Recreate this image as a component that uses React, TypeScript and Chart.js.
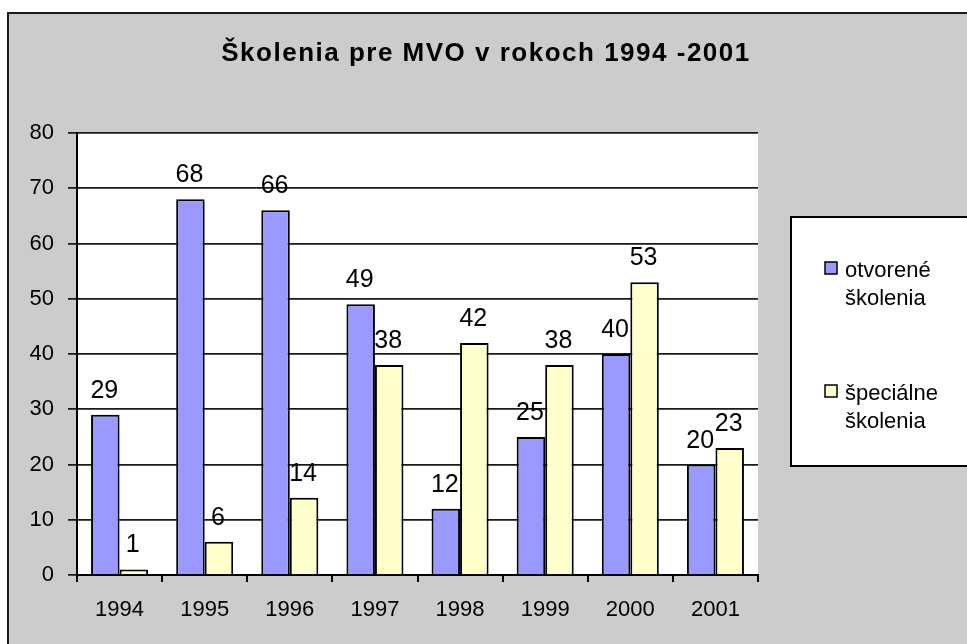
import React, { useEffect, useRef } from "react";
import { Chart, registerables } from "chart.js";

Chart.register(...registerables);

const categories = ["1994", "1995", "1996", "1997", "1998", "1999", "2000", "2001"];
const otvoreneSkolenia = [29, 68, 66, 49, 12, 25, 40, 20];
const specialneSkolenia = [1, 6, 14, 38, 42, 38, 53, 23];
const yTickValues = [0, 10, 20, 30, 40, 50, 60, 70, 80];
const titleText = "Školenia pre MVO v rokoch 1994 -2001";
const legendLines = [
  ["otvorené", "školenia"],
  ["špeciálne", "školenia"],
];
const seriesColors = ["#9999ff", "#ffffcc"];

const FONT = '"Liberation Sans", Arial, sans-serif';

export default function App() {
  const ref = useRef<HTMLCanvasElement>(null);

  useEffect(() => {
    const canvas = ref.current;
    if (!canvas) return;

    const decor = {
      id: "decor",
      beforeDraw(chart: any) {
        const ctx = chart.ctx;
        const W = chart.width;
        const H = chart.height;
        ctx.save();
        ctx.fillStyle = "#ffffff";
        ctx.fillRect(0, 0, W, H);
        ctx.fillStyle = "#cccccc";
        ctx.fillRect(8, 13, W, H);
        ctx.strokeStyle = "#1a1a1a";
        ctx.lineWidth = 2;
        ctx.beginPath();
        ctx.moveTo(8, H + 5);
        ctx.lineTo(8, 13);
        ctx.lineTo(W + 5, 13);
        ctx.stroke();
        const a = chart.chartArea;
        ctx.fillStyle = "#ffffff";
        ctx.fillRect(a.left, a.top, a.right - a.left, a.bottom - a.top);
        // title
        ctx.fillStyle = "#000";
        ctx.font = `bold 26px ${FONT}`;
        ctx.textAlign = "center";
        ctx.textBaseline = "alphabetic";
        (ctx as any).letterSpacing = "1.5px";
        ctx.fillText(titleText, 486, 61);
        ctx.restore();
      },
      afterDatasetsDraw(chart: any) {
        const ctx = chart.ctx;
        ctx.save();
        ctx.font = `25px ${FONT}`;
        ctx.fillStyle = "#000";
        ctx.textAlign = "center";
        ctx.textBaseline = "alphabetic";
        chart.data.datasets.forEach((ds: any, i: number) => {
          const meta = chart.getDatasetMeta(i);
          meta.data.forEach((el: any, j: number) => {
            ctx.fillText(String(ds.data[j]), el.x - 1, el.y - 17);
          });
        });
        ctx.restore();
      },
      afterDraw(chart: any) {
        const ctx = chart.ctx;
        ctx.save();
        // legend box
        ctx.fillStyle = "#ffffff";
        ctx.fillRect(791, 217, 200, 249);
        ctx.strokeStyle = "#000";
        ctx.lineWidth = 2;
        ctx.strokeRect(791, 217, 200, 249);
        const itemTops = [262, 385];
        ctx.font = `22px ${FONT}`;
        ctx.textAlign = "left";
        ctx.textBaseline = "alphabetic";
        legendLines.forEach((lines, i) => {
          const top = itemTops[i];
          ctx.fillStyle = seriesColors[i];
          ctx.fillRect(825, top, 12, 12);
          ctx.strokeStyle = "#000";
          ctx.lineWidth = 1.5;
          ctx.strokeRect(825, top, 12, 12);
          ctx.fillStyle = "#000";
          lines.forEach((t, k) => {
            ctx.fillText(t, 845, top + 15 + k * 28);
          });
        });
        ctx.restore();
      },
    };

    const chart = new Chart(canvas, {
      type: "bar",
      data: {
        labels: categories,
        datasets: [
          {
            label: "otvorené školenia",
            data: otvoreneSkolenia,
            backgroundColor: seriesColors[0],
            borderColor: "#000",
            borderWidth: 2,
            categoryPercentage: 0.67,
            barPercentage: 1,
          },
          {
            label: "špeciálne školenia",
            data: specialneSkolenia,
            backgroundColor: seriesColors[1],
            borderColor: "#000",
            borderWidth: 2,
            categoryPercentage: 0.67,
            barPercentage: 1,
          },
        ],
      },
      options: {
        responsive: false,
        animation: false,
        devicePixelRatio: 1,
        layout: { padding: { top: 133, right: 209, left: 0, bottom: 0 } },
        plugins: {
          legend: { display: false },
          title: { display: false },
          tooltip: { enabled: false },
        },
        scales: {
          x: {
            grid: {
              drawOnChartArea: false,
              color: "#000",
              lineWidth: 2,
              tickLength: 7,
              offset: true,
            },
            border: { color: "#000", width: 2 },
            ticks: { color: "#000", font: { family: FONT, size: 22 }, padding: 15 },
            afterFit: (s: any) => {
              s.height = 69;
            },
          },
          y: {
            min: 0,
            max: 80,
            afterBuildTicks: (s: any) => {
              s.ticks = yTickValues.map((v) => ({ value: v }));
            },
            ticks: { color: "#000", font: { family: FONT, size: 22 }, padding: 14 },
            grid: { color: "#1a1a1a", lineWidth: 1.75, tickLength: 9 },
            border: { color: "#000", width: 2 },
            afterFit: (s: any) => {
              s.width = 77;
            },
          },
        },
      },
      plugins: [decor],
    });

    return () => chart.destroy();
  }, []);

  return (
    <div style={{ position: "fixed", left: 0, top: 0, width: 967, height: 644 }}>
      <canvas ref={ref} width={967} height={644} style={{ display: "block" }} />
    </div>
  );
}
